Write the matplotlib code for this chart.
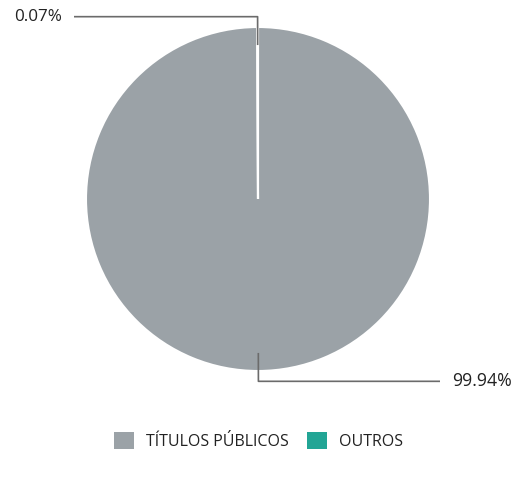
import numpy as np
import matplotlib.pyplot as plt
from matplotlib.patches import Patch

plt.rcParams['font.family'] = ['Open Sans', 'DejaVu Sans']

# data
categories = ['TÍTULOS PÚBLICOS', 'OUTROS']
values = [99.93, 0.07]
labels = ['99.94%', '0.07%']
colors = ['#9ba2a7', '#22a595']

W, H = 517, 479
fig = plt.figure(figsize=(W / 100, H / 100), dpi=100)
ax = fig.add_axes([0, 0, 1, 1])
ax.set_xlim(0, W)
ax.set_ylim(0, H)
ax.axis('off')

cx, cy, r = 258, H - 199, 172
wedges, _ = ax.pie(values, colors=colors, startangle=90, counterclock=False,
                   center=(cx, cy), radius=r,
                   wedgeprops=dict(edgecolor='white', linewidth=1.5))
ax.set_xlim(0, W)
ax.set_ylim(0, H)
ax.set_aspect('equal')

# leader lines
label_x = [440, 74]
for w, lab, lx in zip(wedges, labels, label_x):
    ang = np.deg2rad((w.theta1 + w.theta2) / 2)
    x0 = cx + 0.895 * r * np.cos(ang)
    y0 = cy + 0.895 * r * np.sin(ang)
    y1 = cy + 1.06 * r * np.sin(ang)
    x1 = cx + 1.06 * r * np.cos(ang)
    ax.plot([x0, x1, lx], [y0, y1, y1], color='#6b6b6b', lw=1.2,
            solid_capstyle='butt')
    if lx > cx:
        ax.text(lx + 12, y1, lab, ha='left', va='center', fontsize=12.8, color='#222222')
    else:
        ax.text(lx - 12, y1, lab, ha='right', va='center', fontsize=12.3, color='#222222')

handles = [Patch(facecolor=c, edgecolor='none') for c in colors]
fig.legend(handles, categories, loc='center', bbox_to_anchor=(0.5, 1 - 441 / H),
           ncol=2, frameon=False, fontsize=11.5, handlelength=1.25, handleheight=1.25,
           handletextpad=0.75, columnspacing=1.1, labelcolor='#222222')

fig.savefig('out.png', dpi=100)
